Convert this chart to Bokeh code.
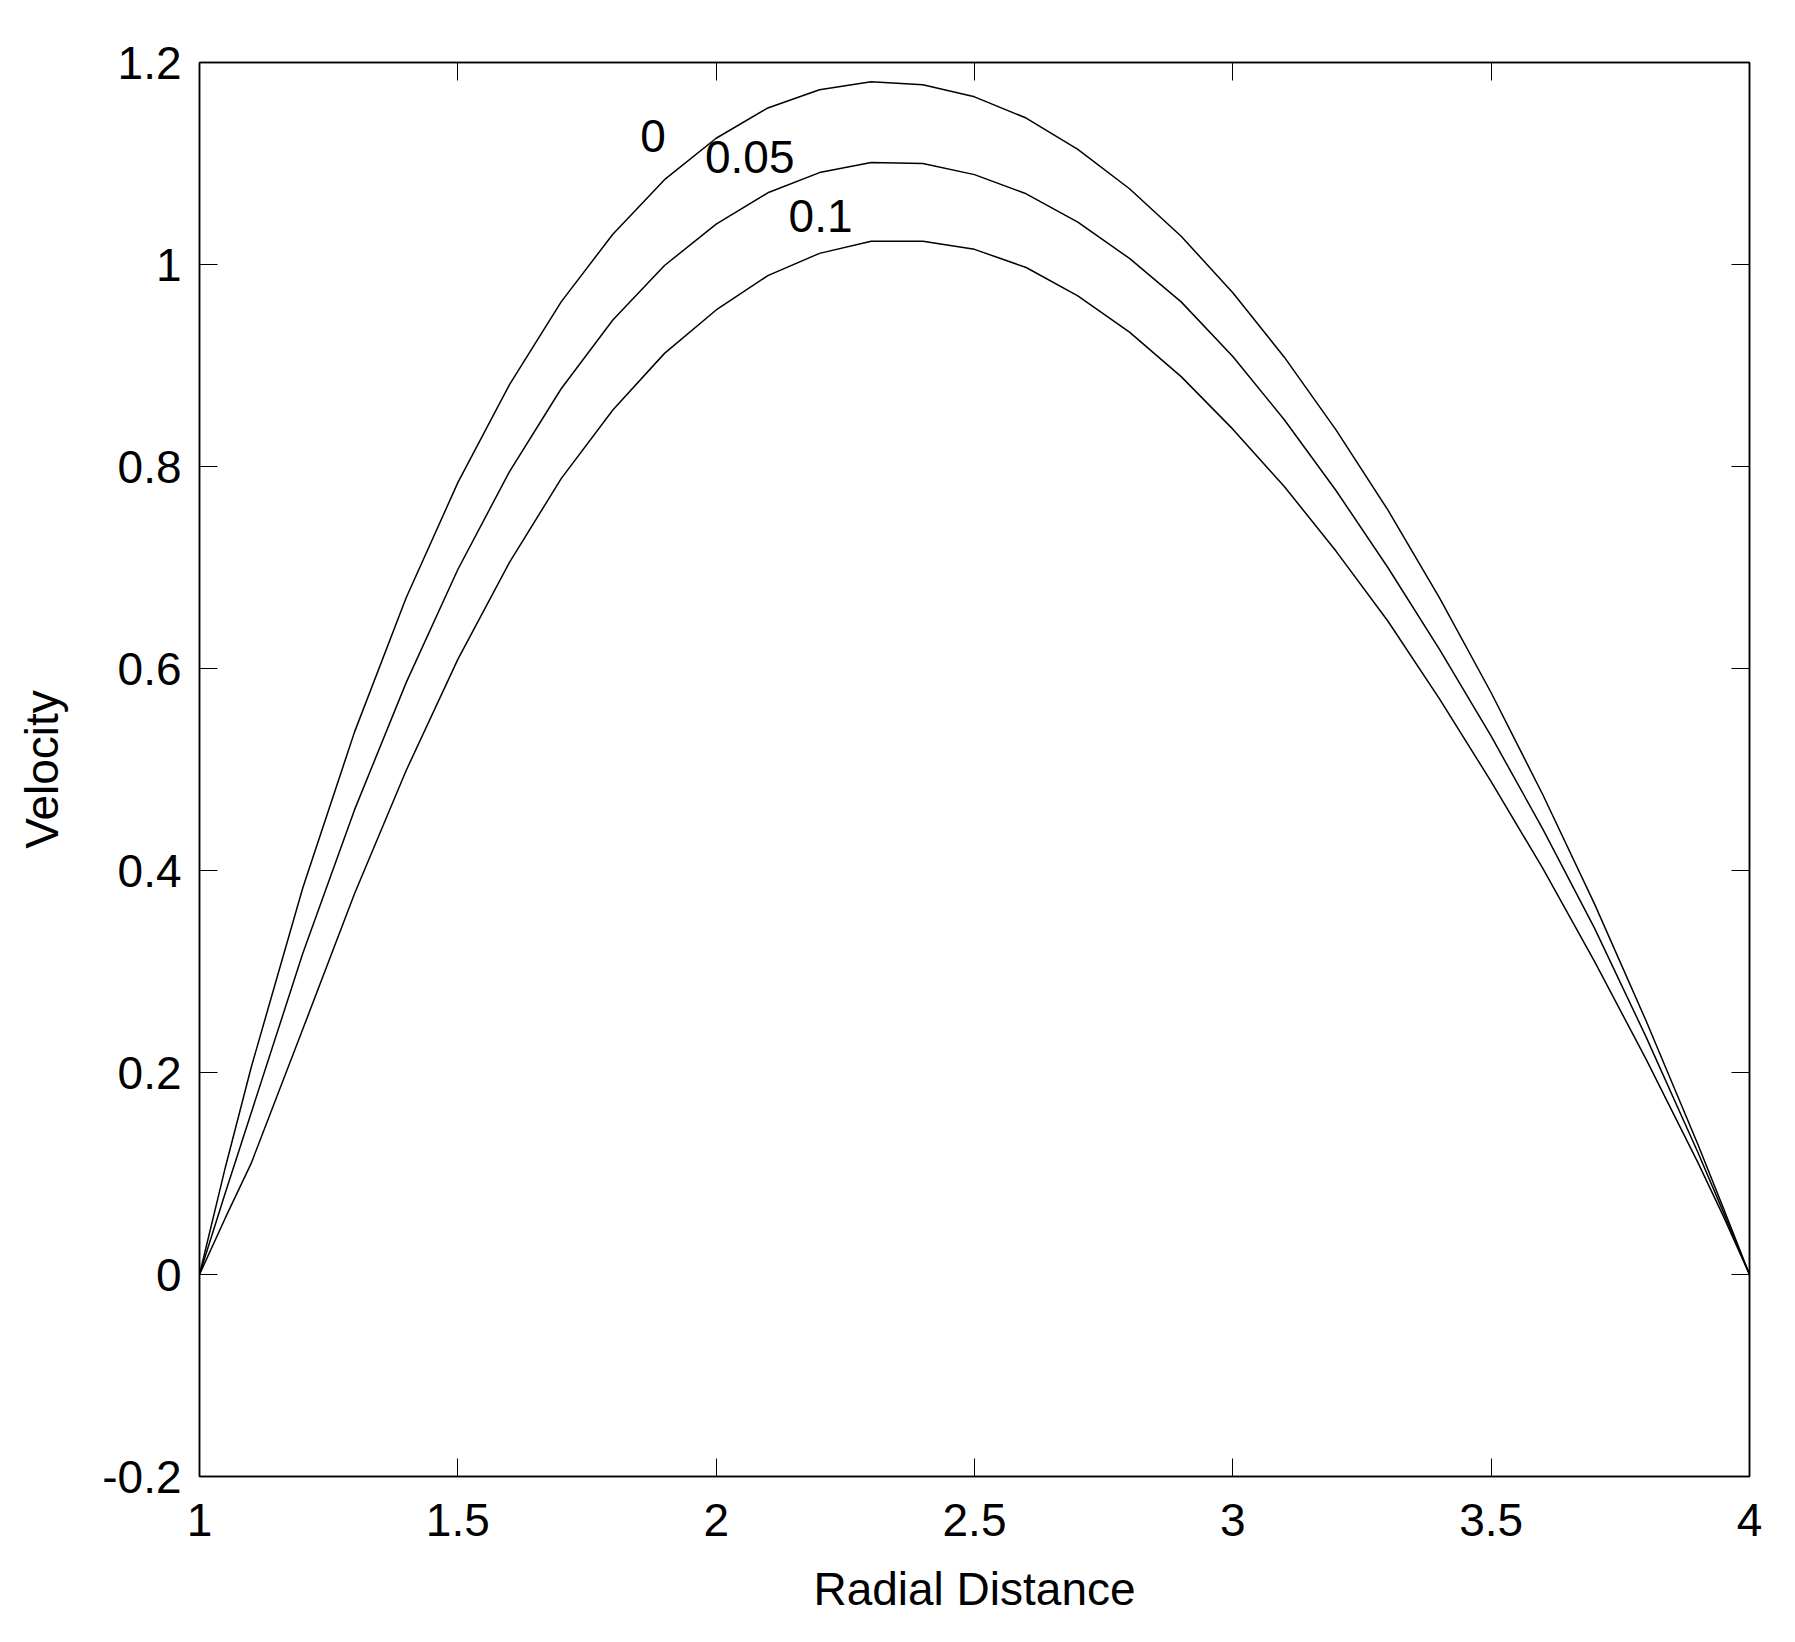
from bokeh.plotting import figure
from bokeh.models import Range1d, FixedTicker, LinearAxis
from bokeh.core.properties import value
from bokeh.embed import file_html
from bokeh.resources import INLINE

# ---- data ----
radial = [1.0, 1.05, 1.1, 1.2, 1.3, 1.4, 1.5, 1.6, 1.7, 1.8, 1.9, 2.0, 2.1, 2.2, 2.3, 2.4,
          2.5, 2.6, 2.7, 2.8, 2.9, 3.0, 3.1, 3.2, 3.3, 3.4, 3.5, 3.6, 3.7, 3.8, 3.9, 3.95, 4.0]
vel_0 = [0.0, 0.106, 0.205, 0.383, 0.537, 0.670, 0.784, 0.881, 0.963, 1.030, 1.084, 1.125,
         1.155, 1.173, 1.181, 1.178, 1.166, 1.145, 1.114, 1.075, 1.028, 0.972, 0.908, 0.836,
         0.757, 0.670, 0.576, 0.475, 0.367, 0.251, 0.129, 0.065, 0.0]
vel_005 = [0.0, 0.081, 0.160, 0.318, 0.460, 0.586, 0.698, 0.795, 0.877, 0.945, 0.999, 1.040,
           1.071, 1.091, 1.101, 1.100, 1.089, 1.070, 1.042, 1.006, 0.963, 0.909, 0.846, 0.776,
           0.700, 0.619, 0.533, 0.441, 0.343, 0.235, 0.121, 0.061, 0.0]
vel_01 = [0.0, 0.056, 0.110, 0.243, 0.377, 0.499, 0.609, 0.705, 0.788, 0.856, 0.912, 0.955,
          0.989, 1.011, 1.023, 1.023, 1.015, 0.997, 0.969, 0.933, 0.889, 0.837, 0.780, 0.716,
          0.647, 0.570, 0.488, 0.402, 0.310, 0.213, 0.111, 0.057, 0.0]

curve_labels = ["0", "0.05", "0.1"]
label_x = [1.878, 2.065, 2.202]
label_y = [1.127, 1.106, 1.048]

x_ticks = [1, 1.5, 2, 2.5, 3, 3.5, 4]
x_tick_labels = ["1", "1.5", "2", "2.5", "3", "3.5", "4"]
y_ticks = [-0.2, 0, 0.2, 0.4, 0.6, 0.8, 1, 1.2]
y_tick_labels = ["-0.2", "0", "0.2", "0.4", "0.6", "0.8", "1", "1.2"]

FONT = "Liberation Sans"
FS = "46px"

p = figure(frame_width=1550, frame_height=1414,
           x_range=Range1d(1, 4), y_range=Range1d(-0.2, 1.2),
           output_backend="svg", toolbar_location=None,
           min_border_left=199, min_border_top=62, min_border_right=30, min_border_bottom=150,
           background_fill_color="white", border_fill_color="white")
p.grid.visible = False
p.outline_line_color = "black"
p.outline_line_width = 1.5

for series in (vel_0, vel_005, vel_01):
    p.line(radial, series, line_color="black", line_width=1.5)

p.text(x=label_x, y=label_y, text=curve_labels, text_font=value(FONT),
       text_font_size=FS, text_align="center", text_baseline="middle", text_color="black")

# main axes
xa = p.xaxis[0]
ya = p.yaxis[0]
xa.ticker = FixedTicker(ticks=x_ticks)
ya.ticker = FixedTicker(ticks=y_ticks)
xa.major_label_overrides = dict(zip(x_ticks, x_tick_labels))
ya.major_label_overrides = dict(zip(y_ticks, y_tick_labels))
xa.axis_label = "Radial Distance"
ya.axis_label = "Velocity"
for ax, stand in ((xa, 27), (ya, 18)):
    ax.major_label_text_font = FONT
    ax.major_label_text_font_size = FS
    ax.major_label_text_color = "black"
    ax.axis_label_text_font = FONT
    ax.axis_label_text_font_size = FS
    ax.axis_label_text_font_style = "normal"
    ax.axis_label_text_color = "black"
    ax.major_tick_in = 18
    ax.major_tick_out = 0
    ax.minor_tick_in = 0
    ax.minor_tick_out = 0
    ax.major_tick_line_color = "black"
    ax.axis_line_color = "black"
    ax.axis_line_width = 1.5
    ax.major_label_standoff = stand
xa.axis_label_standoff = 24
ya.axis_label_standoff = 31

# mirrored axes (ticks only, no labels)
top = LinearAxis(ticker=FixedTicker(ticks=x_ticks),
                 major_label_overrides={t: "" for t in x_ticks},
                 major_tick_in=18, major_tick_out=0, minor_tick_in=0, minor_tick_out=0,
                 axis_line_width=1.5, major_label_standoff=0)
right = LinearAxis(ticker=FixedTicker(ticks=y_ticks),
                   major_label_overrides={t: "" for t in y_ticks},
                   major_tick_in=18, major_tick_out=0, minor_tick_in=0, minor_tick_out=0,
                   axis_line_width=1.5, major_label_standoff=0)
p.add_layout(top, "above")
p.add_layout(right, "right")

open("out.html", "w").write(file_html(p, INLINE))
